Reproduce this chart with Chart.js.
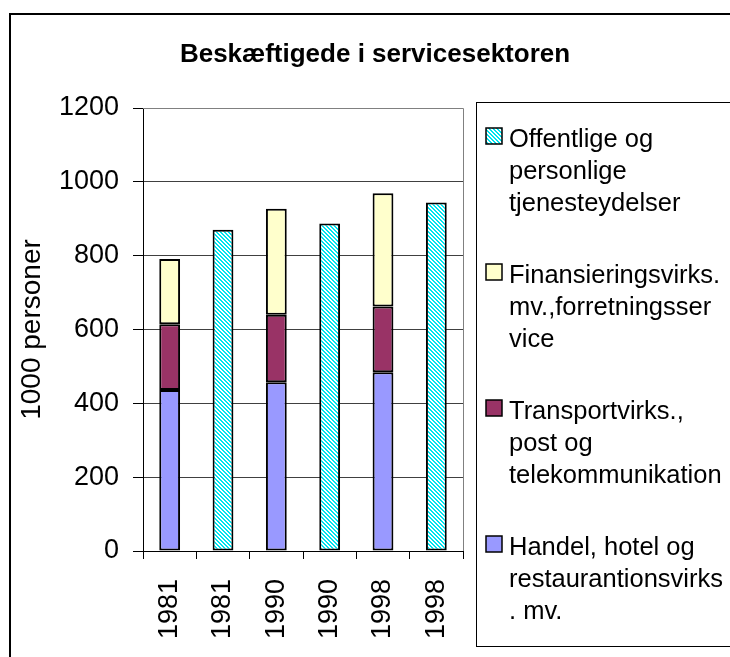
<!DOCTYPE html>
<html>
<head>
<meta charset="utf-8">
<script src="https://cdn.jsdelivr.net/npm/chart.js@4/dist/chart.umd.min.js"></script>
<style>
  html, body { margin: 0; padding: 0; background: #fff; }
  #wrap { width: 730px; height: 657px; }
</style>
</head>
<body>
<div id="wrap"><canvas id="chart" width="730" height="657"></canvas></div>
<script>
// data (1000 personer)
const years = ["1981", "1981", "1990", "1990", "1998", "1998"];
const handel = [436, null, 457, null, 484, null];
const transport = [178, null, 183, null, 178, null];
const finans = [177, null, 287, null, 307, null];
const offentlige = [null, 870, null, 887, null, 944];
const yTicks = [0, 200, 400, 600, 800, 1000, 1200];

const title = "Beskæftigede i servicesektoren";
const yTitle = "1000 personer";
// legend lines, top to bottom (as Excel wrapped them)
const legendLines = [
  ["Offentlige og", "personlige", "tjenesteydelser"],
  ["Finansieringsvirks.", "mv.,forretningsser", "vice"],
  ["Transportvirks.,", "post og", "telekommunikation"],
  ["Handel, hotel og", "restaurantionsvirks", ". mv."],
];

const FONT = "'Liberation Sans', Arial, sans-serif";

// cyan / white diagonal hatch
function makeHatch() {
  const c = document.createElement("canvas");
  c.width = 4;
  c.height = 4;
  const g = c.getContext("2d");
  g.fillStyle = "#ffffff";
  g.fillRect(0, 0, 4, 4);
  g.fillStyle = "#00e5f0";
  for (let x = 0; x < 4; x++) {
    for (let y = 0; y < 4; y++) {
      if (((x - y) % 4 + 4) % 4 < 2) g.fillRect(x, y, 1, 1);
    }
  }
  return document.getElementById("chart").getContext("2d").createPattern(c, "repeat");
}
const hatch = makeHatch();

const colors = ["#9999ff", "#993366", "#ffffcc", hatch];

// frame, title, plot border and the boxed legend
const decor = {
  id: "decor",
  beforeDraw(chart) {
    const { ctx } = chart;
    ctx.save();
    ctx.fillStyle = "#fff";
    ctx.fillRect(0, 0, chart.width, chart.height);
    ctx.restore();
  },
  beforeDatasetsDraw(chart) {
    const { ctx, chartArea: a } = chart;
    ctx.save();
    // plot area border (top / right in gray)
    ctx.strokeStyle = "#808080";
    ctx.lineWidth = 1;
    ctx.beginPath();
    ctx.moveTo(a.left, a.top + 0.5);
    ctx.lineTo(a.right + 0.5, a.top + 0.5);
    ctx.lineTo(a.right + 0.5, a.bottom);
    ctx.stroke();
    ctx.restore();
  },
  afterDraw(chart) {
    const { ctx } = chart;
    ctx.save();
    // outer frame
    ctx.strokeStyle = "#000";
    ctx.lineWidth = 2;
    ctx.strokeRect(10, 14, 740, 660);

    // title
    ctx.fillStyle = "#000";
    ctx.font = "bold 26px " + FONT;
    ctx.textAlign = "center";
    ctx.textBaseline = "alphabetic";
    ctx.fillText(title, 375, 62);

    // legend box
    ctx.lineWidth = 1;
    ctx.strokeRect(476.5, 102.5, 300, 544);
    ctx.font = "25.5px " + FONT;
    ctx.textAlign = "left";
    const order = [3, 2, 1, 0];
    legendLines.forEach((lines, i) => {
      const base = 147 + i * 136;
      ctx.fillStyle = colors[order[i]];
      ctx.fillRect(486, base - 19, 16, 16);
      ctx.strokeStyle = "#000";
      ctx.lineWidth = 1.5;
      ctx.strokeRect(486, base - 19, 16, 16);
      ctx.fillStyle = "#000";
      lines.forEach((t, j) => ctx.fillText(t, 509, base + j * 32));
    });
    ctx.restore();
  },
};

const barOpts = {
  borderColor: "#000",
  borderWidth: 2,
  borderSkipped: false,
  barPercentage: 0.39,
  categoryPercentage: 1,
};

new Chart(document.getElementById("chart"), {
  type: "bar",
  plugins: [decor],
  data: {
    labels: years,
    datasets: [
      { label: legendLines[3].join(" "), data: handel, backgroundColor: colors[0], ...barOpts },
      { label: legendLines[2].join(" "), data: transport, backgroundColor: colors[1], ...barOpts },
      { label: legendLines[1].join(" "), data: finans, backgroundColor: colors[2], ...barOpts },
      { label: legendLines[0].join(" "), data: offentlige, backgroundColor: colors[3], ...barOpts },
    ],
  },
  options: {
    responsive: false,
    animation: false,
    events: [],
    layout: { padding: { top: 108, right: 267, left: 0, bottom: 0 } },
    plugins: {
      legend: { display: false },
      title: { display: false },
      tooltip: { enabled: false },
    },
    scales: {
      x: {
        stacked: true,
        afterFit(scale) {
          scale.height = 106;
        },
        grid: {
          drawOnChartArea: false,
          offset: true,
          tickLength: 8,
          tickColor: "#000",
        },
        border: { color: "#000", width: 1 },
        ticks: {
          minRotation: 90,
          maxRotation: 90,
          padding: 20,
          color: "#000",
          font: { family: FONT, size: 27 },
        },
      },
      y: {
        stacked: true,
        min: 0,
        max: 1200,
        afterFit(scale) {
          scale.width = 143;
        },
        afterBuildTicks(scale) {
          scale.ticks = yTicks.map((v) => ({ value: v }));
        },
        grid: {
          color: "#404040",
          tickColor: "#000",
          tickLength: 10,
        },
        border: { color: "#000", width: 1 },
        ticks: {
          padding: 14,
          color: "#000",
          font: { family: FONT, size: 27 },
          callback: (v) => String(v),
        },
        title: {
          display: true,
          text: yTitle,
          color: "#000",
          padding: { top: 15, bottom: 0 },
          font: { family: FONT, size: 28 },
        },
      },
    },
  },
});
</script>
</body>
</html>
